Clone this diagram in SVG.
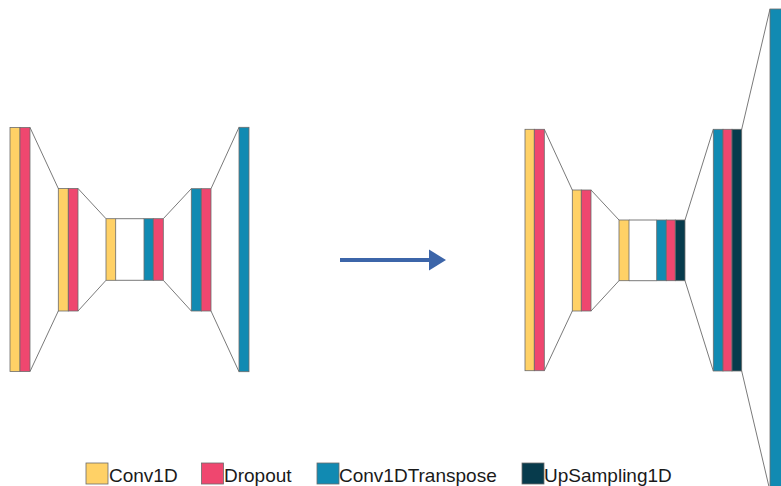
<svg xmlns="http://www.w3.org/2000/svg" width="781" height="486" viewBox="0 0 781 486">
<style>
.y{fill:#FFD166;stroke:#6b6b6b;stroke-width:0.8}
.r{fill:#EF476F;stroke:#6b6b6b;stroke-width:0.8}
.t{fill:#118AB2;stroke:#6b6b6b;stroke-width:0.8}
.d{fill:#073B4C;stroke:#6b6b6b;stroke-width:0.8}
.c{stroke:#7a7a7a;stroke-width:1;fill:none}
.lg{font-family:"Liberation Sans",Arial,sans-serif;font-size:19px;fill:#1a1a1a}
</style>
<rect width="781" height="486" fill="#fff"/>
<g id="connectors">
  <line class="c" x1="30" y1="127.5" x2="58.3" y2="188.5"/>
  <line class="c" x1="30" y1="371.5" x2="58.3" y2="311"/>
  <line class="c" x1="78" y1="188.5" x2="106" y2="218.7"/>
  <line class="c" x1="78" y1="311" x2="106" y2="280.3"/>
  <line class="c" x1="115.7" y1="218.7" x2="144" y2="218.7"/>
  <line class="c" x1="115.7" y1="280.3" x2="144" y2="280.3"/>
  <line class="c" x1="163.3" y1="218.7" x2="191.3" y2="188.7"/>
  <line class="c" x1="163.3" y1="280.3" x2="191.3" y2="311"/>
  <line class="c" x1="211" y1="188.7" x2="239" y2="127.3"/>
  <line class="c" x1="211" y1="311" x2="239" y2="371.7"/>
  <line class="c" x1="544.3" y1="129.3" x2="572.3" y2="190"/>
  <line class="c" x1="544.3" y1="370.7" x2="572.3" y2="311"/>
  <line class="c" x1="591" y1="190" x2="619" y2="220"/>
  <line class="c" x1="591" y1="311" x2="619" y2="280.7"/>
  <line class="c" x1="629" y1="220" x2="656.7" y2="220"/>
  <line class="c" x1="629" y1="280.7" x2="656.7" y2="280.7"/>
  <line class="c" x1="685" y1="220" x2="713.3" y2="129.3"/>
  <line class="c" x1="685" y1="280.7" x2="713.3" y2="371"/>
  <line class="c" x1="741.7" y1="129.3" x2="770" y2="9"/>
  <line class="c" x1="741.7" y1="371" x2="770" y2="491"/>
  <g id="arrow">
    <line x1="340" y1="260" x2="432" y2="260" stroke="#3C65A9" stroke-width="4"/>
    <polygon points="429,249.5 446,260 429,270.5" fill="#3C65A9"/>
  </g>
</g>
<g id="left-1"><rect class="y" x="10" y="127.5" width="10" height="244"/><rect class="r" x="20" y="127.5" width="10" height="244"/></g>
<g id="left-2"><rect class="y" x="58.3" y="188.5" width="10" height="122.5"/><rect class="r" x="68.3" y="188.5" width="9.7" height="122.5"/></g>
<g id="left-3a"><rect class="y" x="106" y="218.7" width="9.7" height="61.6"/></g>
<g id="left-3b"><rect class="t" x="144" y="218.7" width="9.3" height="61.6"/><rect class="r" x="153.3" y="218.7" width="10" height="61.6"/></g>
<g id="left-4"><rect class="t" x="191.3" y="188.7" width="10" height="122.3"/><rect class="r" x="201.3" y="188.7" width="9.7" height="122.3"/></g>
<g id="left-5"><rect class="t" x="239" y="127.3" width="10" height="244.4"/></g>
<g id="right-1"><rect class="y" x="525" y="129.3" width="9.3" height="241.4"/><rect class="r" x="534.3" y="129.3" width="10" height="241.4"/></g>
<g id="right-2"><rect class="y" x="572.3" y="190" width="9" height="121"/><rect class="r" x="581.3" y="190" width="9.7" height="121"/></g>
<g id="right-3a"><rect class="y" x="619" y="220" width="10" height="60.7"/></g>
<g id="right-3b"><rect class="t" x="656.7" y="220" width="9.6" height="60.7"/><rect class="r" x="666.3" y="220" width="9" height="60.7"/><rect class="d" x="675.3" y="220" width="9.7" height="60.7"/></g>
<g id="right-4"><rect class="t" x="713.3" y="129.3" width="9.7" height="241.7"/><rect class="r" x="723" y="129.3" width="9" height="241.7"/><rect class="d" x="732" y="129.3" width="9.7" height="241.7"/></g>
<g id="right-5"><rect class="t" x="770" y="9" width="12" height="490"/></g>
<g id="legend">
  <rect class="y" x="86" y="463" width="22" height="21"/><text class="lg" x="109" y="481.5">Conv1D</text>
  <rect class="r" x="201.5" y="463" width="22" height="21"/><text class="lg" x="224" y="481.5">Dropout</text>
  <rect class="t" x="317" y="463" width="22" height="21"/><text class="lg" x="339" y="481.5">Conv1DTranspose</text>
  <rect class="d" x="522" y="463" width="22" height="21"/><text class="lg" x="544" y="481.5">UpSampling1D</text>
</g>
</svg>
